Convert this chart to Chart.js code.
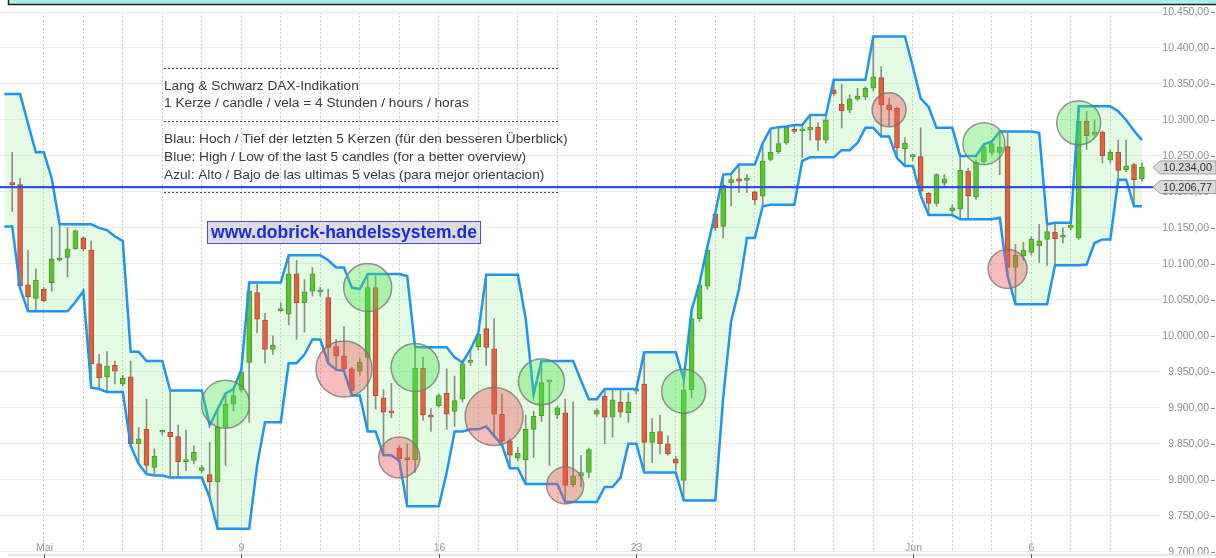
<!DOCTYPE html>
<html>
<head>
<meta charset="utf-8">
<script src="https://cdn.jsdelivr.net/npm/chart.js@4.4.1/dist/chart.umd.min.js"></script>
<style>
    html, body { margin: 0; padding: 0; background: #fff; }
    canvas { display: block; }
</style>
</head>
<body>
<canvas id="dax" width="1216" height="558"></canvas>
<script>
// L&S DAX, 4h candles (5 per trading day), 29.04. - 08.06.
const opens = [
    10213, 10210, 10071, 10052, 10065, 10074, 10105, 10109, 10121, 10136,
    10119, 9961, 9943, 9959, 9933, 9943, 9850, 9870, 9817, 9866,
    9866, 9860, 9825, 9827, 9813, 9807, 9797, 9873, 9905, 9925,
    9963, 10060, 10022, 9981, 10035, 10030, 10086, 10046, 10062, 10061,
    10053, 9985, 9972, 9954, 9951, 9970, 10067, 9914, 9894, 9844,
    9829, 9828, 9955, 9888, 9903, 9920, 9895, 9912, 9963, 9985,
    10010, 9982, 9891, 9854, 9830, 9828, 9870, 9889, 9936, 9890,
    9893, 9793, 9805, 9810, 9891, 9916, 9887, 9908, 9893, 9923,
    9933, 9852, 9867, 9850, 9829, 9799, 9925, 10024, 10069, 10169,
    10152, 10213, 10218, 10216, 10200, 10194, 10245, 10256, 10268, 10287,
    10285, 10286, 10290, 10272, 10342, 10322, 10314, 10329, 10332, 10344,
    10359, 10321, 10316, 10260, 10249, 10249, 10198, 10184, 10212, 10174,
    10176, 10229, 10193, 10242, 10255, 10255, 10263, 10095, 10111, 10116,
    10125, 10134, 10144, 10137, 10150, 10136, 10298, 10280, 10283, 10244,
    10255, 10231, 10238, 10218
];
const highs = [
    10255, 10219, 10119, 10093, 10067, 10151, 10155, 10150, 10147, 10138,
    10132, 9974, 9978, 9965, 9945, 9965, 9873, 9912, 9843, 9868,
    9924, 9876, 9869, 9847, 9820, 9852, 9898, 9920, 9926, 9953,
    10074, 10072, 10031, 10000, 10046, 10112, 10105, 10078, 10095, 10067,
    10065, 9995, 10013, 9956, 9968, 10086, 10083, 9925, 9934, 9847,
    9850, 9984, 9970, 9899, 9919, 9954, 9944, 9963, 9981, 10004,
    10085, 10024, 9919, 9857, 9845, 9890, 9895, 9965, 9938, 9902,
    9912, 9908, 9834, 9844, 9899, 9926, 9926, 9925, 9921, 9926,
    9977, 9885, 9890, 9861, 9833, 9940, 10036, 10073, 10124, 10171,
    10224, 10225, 10238, 10224, 10201, 10268, 10288, 10290, 10291, 10293,
    10293, 10307, 10296, 10307, 10356, 10349, 10335, 10344, 10346, 10416,
    10374, 10330, 10318, 10275, 10252, 10289, 10199, 10225, 10224, 10182,
    10250, 10233, 10245, 10266, 10270, 10284, 10282, 10127, 10130, 10138,
    10155, 10155, 10157, 10150, 10157, 10319, 10312, 10300, 10285, 10258,
    10272, 10272, 10240, 10240
];
const lows = [
    10173, 10066, 10034, 10034, 10047, 10062, 10104, 10082, 10120, 10118,
    9928, 9926, 9922, 9933, 9930, 9847, 9822, 9808, 9806, 9862,
    9803, 9803, 9813, 9822, 9810, 9775, 9732, 9820, 9896, 9922,
    9880, 10004, 9962, 9974, 10034, 10015, 9995, 10005, 10055, 10055,
    9962, 9953, 9951, 9917, 9945, 9867, 9898, 9834, 9886, 9826,
    9763, 9810, 9882, 9867, 9901, 9870, 9874, 9908, 9959, 9980,
    9959, 9861, 9848, 9816, 9826, 9794, 9831, 9881, 9820, 9885,
    9769, 9790, 9790, 9803, 9888, 9850, 9859, 9887, 9880, 9919,
    9810, 9824, 9836, 9834, 9813, 9771, 9914, 10020, 10065, 10146,
    10136, 10180, 10199, 10199, 10182, 10182, 10243, 10253, 10266, 10281,
    10248, 10272, 10258, 10268, 10334, 10289, 10310, 10327, 10328, 10340,
    10277, 10291, 10247, 10236, 10243, 10195, 10168, 10180, 10208, 10169,
    10162, 10164, 10190, 10240, 10251, 10224, 10083, 10044, 10105, 10112,
    10102, 10098, 10099, 10129, 10147, 10134, 10259, 10277, 10240, 10240,
    10217, 10228, 10180, 10215
];
const closes = [
    10210, 10069, 10054, 10077, 10049, 10107, 10107, 10121, 10146, 10121,
    9961, 9942, 9958, 9951, 9941, 9850, 9857, 9820, 9833, 9866,
    9860, 9825, 9828, 9838, 9817, 9797, 9873, 9905, 9917, 9950,
    10062, 10023, 9981, 9987, 10036, 10086, 10046, 10061, 10086, 10064,
    9984, 9972, 9954, 9924, 9963, 10067, 9917, 9894, 9893, 9829,
    9828, 9955, 9890, 9887, 9917, 9891, 9910, 9961, 9964, 10002,
    9984, 9891, 9854, 9834, 9837, 9870, 9888, 9935, 9937, 9900,
    9792, 9805, 9810, 9842, 9896, 9887, 9911, 9894, 9908, 9924,
    9852, 9866, 9850, 9836, 9823, 9925, 10024, 10071, 10119, 10150,
    10209, 10217, 10215, 10216, 10189, 10243, 10255, 10267, 10290, 10284,
    10286, 10290, 10272, 10300, 10336, 10313, 10329, 10333, 10344, 10360,
    10321, 10314, 10261, 10268, 10250, 10201, 10184, 10224, 10218, 10178,
    10230, 10194, 10241, 10263, 10267, 10262, 10095, 10112, 10119, 10134,
    10132, 10145, 10135, 10138, 10154, 10298, 10278, 10283, 10250, 10255,
    10230, 10236, 10217, 10234
];

// high / low of the 4 candles before the first visible one (only seen through the blue band)
const seedHighs = [10320, 10336, 10295, 10250];
const seedLows = [10190, 10170, 10160, 10152];

// signal circles: candle index, price, bubble radius
const buyIdx = [27, 45, 51, 67, 85, 123, 135];
const buyPrice = [9905, 10067, 9956, 9936, 9923, 10267, 10296];
const buyRadius = [24, 24, 24, 23, 22, 21, 22];
const sellIdx = [42, 49, 61, 70, 111, 126];
const sellPrice = [9954, 9831, 9888, 9792, 10314, 10093];
const sellRadius = [28, 20.5, 29, 18.5, 17, 19.5];

const xTickIdx = [4, 29, 54, 79, 114, 129];
const xTickText = ["Mai", "9", "16", "23", "Jun", "6"];

const lastPrice = 10234.0;
const refLevel = 10206.77;

const noteLines = [
    "Lang & Schwarz DAX-Indikation",
    "1 Kerze / candle / vela = 4 Stunden / hours / horas",
    "Blau: Hoch / Tief der letzten 5 Kerzen (für den besseren Überblick)",
    "Blue: High / Low of the last 5 candles (for a better overview)",
    "Azul: Alto / Bajo de las ultimas 5 velas (para mejor orientacion)",
];
const siteUrl = "www.dobrick-handelssystem.de";

const GREEN = "#5ec236";
const RED = "#dc6446";

const xMin = -1.544;
const xMax = 145.29;

// 5-candle high/low band
const allHighs = seedHighs.concat(highs);
const allLows = seedLows.concat(lows);
const upperBand = [];
const lowerBand = [];
for (let i = -1; i < highs.length; i++) {
    const from = Math.max(0, i);
    const to = i + 4;
    upperBand.push({ x: i, y: Math.max(...allHighs.slice(from, to + 1)) });
    lowerBand.push({ x: i, y: Math.min(...allLows.slice(from, to + 1)) });
}

const dayStarts = [];
for (let d = 4; d < opens.length; d += 5) dayStarts.push(d);

function fmt(v) {
    const parts = v.toFixed(2).split(".");
    return parts[0].replace(/\B(?=(\d{3})+(?!\d))/g, ".") + "," + parts[1];
}

const candleColor = opens.map((o, i) => (closes[i] >= o ? GREEN : RED));
const candleEdge = opens.map((o, i) => (closes[i] >= o ? "#46a224" : "#b84a32"));

const overlay = {
    id: "overlay",

    beforeDraw(chart) {
        const ctx = chart.ctx;
        ctx.save();
        ctx.fillStyle = "#ffffff";
        ctx.fillRect(0, 0, chart.width, chart.height);
        ctx.restore();
    },

    afterDraw(chart) {
        const { ctx, scales } = chart;
        const xs = scales.x;
        const ys = scales.y;

        ctx.save();

        // bottom axis line + x labels
        ctx.strokeStyle = "#e8e8e8";
        ctx.lineWidth = 2;
        ctx.beginPath();
        ctx.moveTo(8, 555);
        ctx.lineTo(1216, 555);
        ctx.stroke();

        ctx.font = "10.5px 'Liberation Sans', Arial, sans-serif";
        ctx.fillStyle = "#999999";
        ctx.textAlign = "center";
        ctx.textBaseline = "middle";
        xTickIdx.forEach((idx, k) => {
            const px = Math.round(xs.getPixelForValue(idx)) + 0.5;
            ctx.fillText(xTickText[k], px, 548);
            ctx.strokeStyle = "#555555";
            ctx.lineWidth = 1;
            ctx.beginPath();
            ctx.moveTo(px, 554);
            ctx.lineTo(px, 558);
            ctx.stroke();
        });

        // tick marks right of the price labels
        ctx.strokeStyle = "#888888";
        ctx.lineWidth = 1;
        ys.ticks.forEach((t) => {
            const py = Math.round(ys.getPixelForValue(t.value)) + 0.5;
            ctx.beginPath();
            ctx.moveTo(1211, py);
            ctx.lineTo(1215, py);
            ctx.stroke();
        });

        // price boxes
        const box = (value, text) => {
            const yc = ys.getPixelForValue(value);
            ctx.beginPath();
            ctx.moveTo(1153, yc);
            ctx.lineTo(1160, yc - 6.5);
            ctx.lineTo(1216, yc - 6.5);
            ctx.lineTo(1216, yc + 6.5);
            ctx.lineTo(1160, yc + 6.5);
            ctx.closePath();
            ctx.fillStyle = "#d9d9d9";
            ctx.fill();
            ctx.strokeStyle = "#a0a0a0";
            ctx.stroke();
            ctx.fillStyle = "#333333";
            ctx.font = "11px 'Liberation Sans', Arial, sans-serif";
            ctx.textAlign = "right";
            ctx.textBaseline = "middle";
            ctx.fillText(text, 1212, yc + 0.5);
        };
        box(lastPrice, fmt(lastPrice));
        box(refLevel, fmt(refLevel));

        // note block
        ctx.strokeStyle = "#444444";
        ctx.lineWidth = 1;
        ctx.setLineDash([2, 2]);
        [68.5, 121.5, 192.5].forEach((ly) => {
            ctx.beginPath();
            ctx.moveTo(164, ly);
            ctx.lineTo(558, ly);
            ctx.stroke();
        });
        ctx.setLineDash([]);

        ctx.fillStyle = "#3a3a3a";
        ctx.font = "13.7px 'Liberation Sans', Arial, sans-serif";
        ctx.textAlign = "left";
        ctx.textBaseline = "middle";
        [86, 103.5, 139.5, 157, 175].forEach((ty, k) => {
            ctx.fillText(noteLines[k], 164, ty);
        });

        ctx.fillStyle = "#dcdcdc";
        ctx.fillRect(207.5, 221.5, 273, 22);
        ctx.strokeStyle = "#4a4aff";
        ctx.strokeRect(207.5, 221.5, 273, 22);
        ctx.fillStyle = "#1c2ae8";
        ctx.font = "bold 17.5px 'Liberation Sans', Arial, sans-serif";
        ctx.textAlign = "center";
        ctx.fillText(siteUrl, 344, 233);

        // cyan strip at the top
        ctx.fillStyle = "#a8f0f0";
        ctx.fillRect(8, 0, 1208, 4);
        ctx.strokeStyle = "#222222";
        ctx.lineWidth = 1.5;
        ctx.beginPath();
        ctx.moveTo(8.5, 0);
        ctx.lineTo(8.5, 4.5);
        ctx.lineTo(1216, 4.5);
        ctx.stroke();

        ctx.restore();
    },
};

new Chart(document.getElementById("dax"), {
    type: "bar",

    data: {
        datasets: [
            {
                type: "bubble",
                data: buyIdx.map((x, k) => ({ x: x, y: buyPrice[k], r: buyRadius[k] })),
                backgroundColor: "rgba(80,230,80,0.38)",
                borderColor: "rgba(115,115,115,0.75)",
                borderWidth: 1.5,
                order: 0,
            },
            {
                type: "bubble",
                data: sellIdx.map((x, k) => ({ x: x, y: sellPrice[k], r: sellRadius[k] })),
                backgroundColor: "rgba(237,87,87,0.4)",
                borderColor: "rgba(115,115,115,0.75)",
                borderWidth: 1.5,
                order: 0,
            },
            {
                type: "line",
                data: [
                    { x: xMin, y: refLevel },
                    { x: xMax, y: refLevel },
                ],
                borderColor: "#3050dd",
                borderWidth: 2.2,
                pointRadius: 0,
                order: 1,
            },
            {
                type: "line",
                data: upperBand,
                borderColor: "#1f94f0",
                borderWidth: 2.5,
                pointRadius: 0,
                tension: 0,
                fill: "+1",
                backgroundColor: "rgba(180,245,180,0.36)",
                order: 2,
            },
            {
                type: "line",
                data: lowerBand,
                borderColor: "#1f94f0",
                borderWidth: 2.5,
                pointRadius: 0,
                tension: 0,
                fill: false,
                order: 2,
            },
            {
                type: "bar",
                data: opens.map((o, i) => ({ x: i, y: [o, closes[i]] })),
                backgroundColor: candleColor,
                borderColor: candleEdge,
                borderWidth: 1,
                borderSkipped: false,
                barThickness: 5,
                minBarLength: 2,
                grouped: false,
                order: 3,
            },
            {
                type: "bar",
                data: lows.map((l, i) => ({ x: i, y: [l, highs[i]] })),
                backgroundColor: "#8a8f8a",
                barThickness: 1,
                grouped: false,
                order: 4,
            },
        ],
    },

    options: {
        responsive: false,
        animation: false,
        devicePixelRatio: 1,
        events: [],

        layout: {
            autoPadding: false,
            padding: { left: 0, right: 7, top: 12, bottom: 5 },
        },

        plugins: {
            legend: { display: false },
            tooltip: { enabled: false },
            filler: { drawTime: "beforeDatasetsDraw" },
        },

        scales: {
            x: {
                type: "linear",
                min: xMin,
                max: xMax,
                offset: false,
                afterBuildTicks: (scale) => {
                    scale.ticks = dayStarts.map((v) => ({ value: v }));
                },
                afterFit: (scale) => {
                    scale.height = 0;
                },
                grid: {
                    offset: false,
                    color: "#cccccc",
                    lineWidth: 1,
                    drawTicks: false,
                },
                border: {
                    display: false,
                    dash: [2, 2],
                },
                ticks: {
                    display: false,
                },
            },

            y: {
                position: "right",
                min: 9700,
                max: 10450,
                afterFit: (scale) => {
                    scale.width = 49;
                },
                grid: {
                    color: "#ebebeb",
                    drawTicks: false,
                },
                border: {
                    display: false,
                },
                ticks: {
                    stepSize: 50,
                    crossAlign: "far",
                    padding: 0,
                    color: "#8f8f8f",
                    font: {
                        family: "'Liberation Sans', Arial, sans-serif",
                        size: 10.5,
                    },
                    callback: (value) => fmt(value),
                },
            },
        },
    },

    plugins: [overlay],
});
</script>
</body>
</html>
